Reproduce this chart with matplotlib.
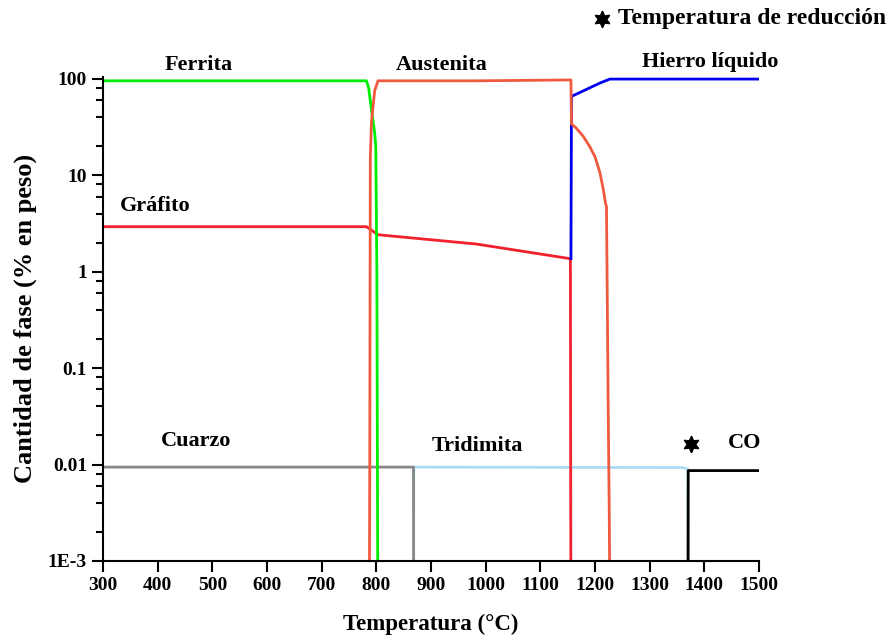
import numpy as np
import matplotlib.pyplot as plt
from matplotlib.ticker import LogLocator, FixedLocator, NullFormatter

plt.rcParams['font.family'] = ['Liberation Serif', 'DejaVu Serif']
plt.rcParams['font.weight'] = 'bold'

# Phase amounts (% weight) vs temperature (°C)
ferrita_t = [300, 782, 786, 791, 797, 799, 801, 803]
ferrita_y = [95, 95, 80, 48, 27.5, 19.7, 1.0, 1e-4]

austenita_t = [787, 788, 789, 791, 797, 803, 983, 1156, 1157, 1165, 1178.6, 1191, 1200, 1209, 1215, 1219,
               1221, 1222.5, 1224, 1226, 1228]
austenita_y = [1e-4, 0.01, 15, 35, 75, 95, 95, 97, 34, 31, 25.2, 19.5, 15.5, 10.6, 7.2, 5.2,
               4.7, 0.51, 0.047, 0.0034, 1e-4]

grafito_t = [300, 782, 803, 983, 1155, 1156]
grafito_y = [2.92, 2.92, 2.41, 1.93, 1.36, 1e-4]

liquido_t = [1156, 1157, 1209, 1227, 1500]
liquido_y = [1.36, 65.5, 90, 99, 99]

cuarzo_t = [300, 868, 868.5]
cuarzo_y = [0.0094, 0.0094, 1e-4]

tridimita_t = [868, 868.5, 1360, 1370, 1370.5]
tridimita_y = [1e-4, 0.0094, 0.0093, 0.0090, 1e-4]

co_t = [1370, 1370.5, 1500]
co_y = [1e-4, 0.00865, 0.00865]

# reduction temperature marker
red_t = [1375]
red_y = [0.0165]

star = (6, 1, 0)

fig = plt.figure(figsize=(8.87, 6.39), dpi=100)
ax = fig.add_axes([0.1161, 0.1221, 0.7396, 0.758])

lw = 2.0
ax.plot(tridimita_t, tridimita_y, color='#aadcf6', lw=lw)
ax.plot(cuarzo_t, cuarzo_y, color='#888888', lw=lw)
ax.plot(co_t, co_y, color='black', lw=lw)
ax.plot(grafito_t, grafito_y, color='#f0202c', lw=lw)
ax.plot(ferrita_t, ferrita_y, color='#00ee00', lw=lw)
ax.plot(liquido_t, liquido_y, color='#0000ee', lw=lw)
ax.plot(austenita_t, austenita_y, color='#ef5a3e', lw=lw)
ax.plot(red_t, red_y, ls='none', marker=star, ms=12, color='black')

ax.set_yscale('log')
ax.set_xlim(300, 1500)
ax.set_ylim(1e-3, 105)
ax.set_xticks(np.arange(300, 1501, 100))
ax.yaxis.set_major_locator(FixedLocator([1e-3, 1e-2, 1e-1, 1, 10, 100]))
ax.set_yticklabels(['1E-3', '0.01', '0.1', '1', '10', '100'])
ax.yaxis.set_minor_locator(LogLocator(base=10, subs=[2, 4, 6, 8]))
ax.yaxis.set_minor_formatter(NullFormatter())

for s in ['top', 'right']:
    ax.spines[s].set_visible(False)
for s in ['left', 'bottom']:
    ax.spines[s].set_linewidth(1.5)

ax.tick_params(axis='both', which='major', direction='out', length=8, width=1.5, labelsize=14)
ax.tick_params(axis='y', which='minor', direction='out', length=5, width=1.5)

ax.set_xlabel('Temperatura (°C)', fontsize=16.5, fontweight='bold', labelpad=14)
ax.set_ylabel('Cantidad de fase (% en peso)', fontsize=19, fontweight='bold', labelpad=8)

# phase labels
lab = dict(fontsize=16, fontweight='bold', ha='center', va='center')
ax.text(475, 140, 'Ferrita', **lab)
ax.text(920, 140, 'Austenita', **lab)
ax.text(1410, 150, 'Hierro líquido', **lab)
ax.text(395, 4.8, 'Gráfito', **lab)
ax.text(470, 0.0175, 'Cuarzo', **lab)
ax.text(984, 0.0155, 'Tridimita', **lab)
ax.text(1474, 0.0168, 'CO', **lab)

# key at top right
ax.plot([0.679], [0.971], transform=fig.transFigure, marker=star, ms=12,
        color='black', ls='none', clip_on=False)
fig.text(0.697, 0.971, 'Temperatura de reducción', fontsize=17, fontweight='bold',
         ha='left', va='center')

fig.savefig('out.png', dpi=100)
